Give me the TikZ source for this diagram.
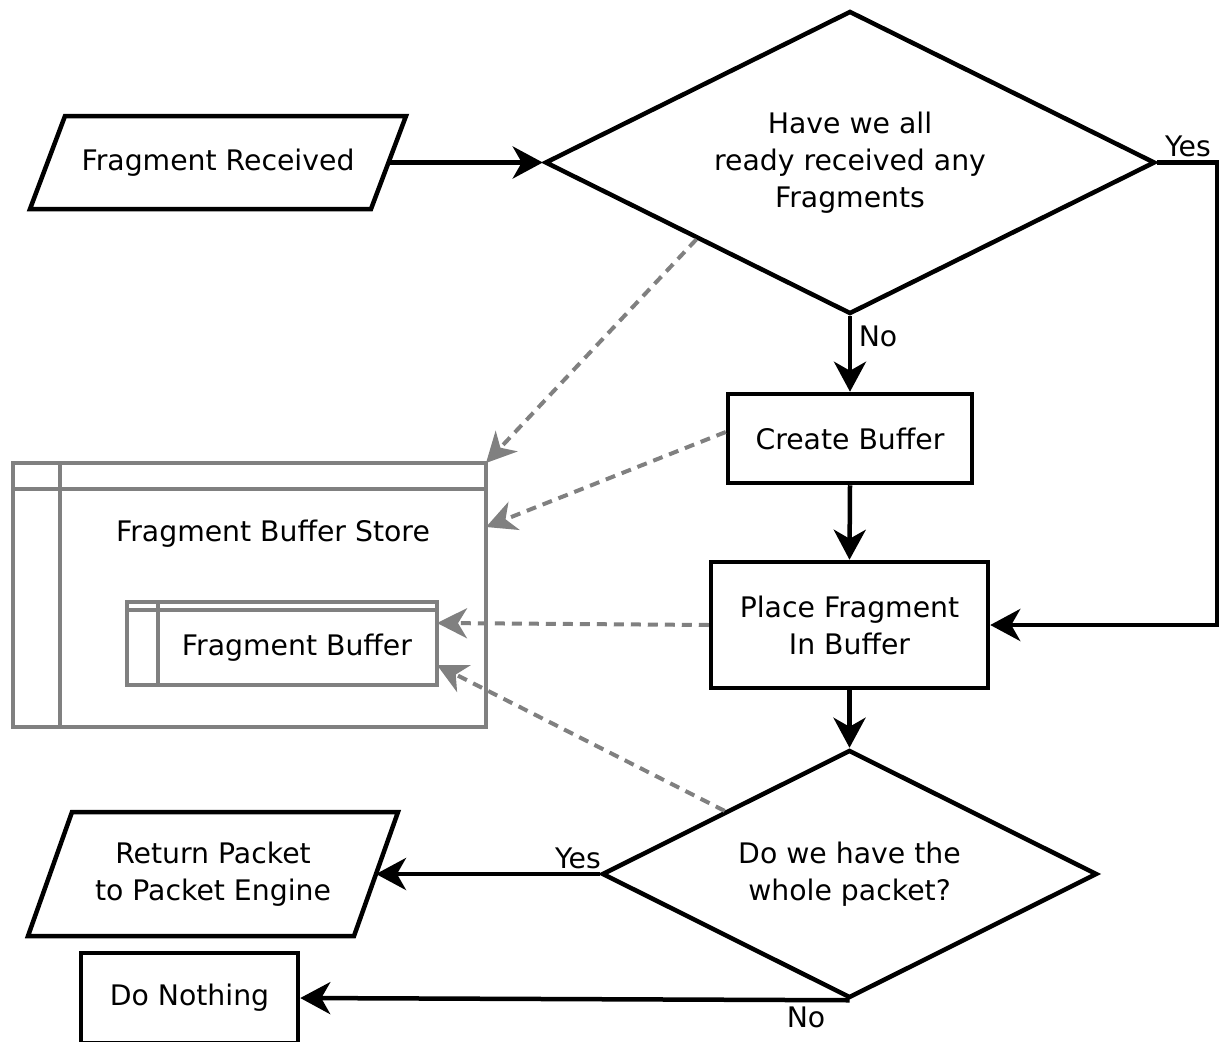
\documentclass[tikz,border=0pt]{standalone}
\usepackage{fontspec}
\setmainfont{DejaVu Sans}
\usetikzlibrary{arrows.meta,shapes.geometric,calc}
\definecolor{linkgray}{RGB}{128,128,128}
\begin{document}
\begin{tikzpicture}[x=1pt,y=-1pt,
  every node/.style={font=\fontsize{28.3}{37}\selectfont, text=black},
  blk/.style={line width=4.5pt, draw=black, line join=miter},
  flow/.style={blk, -{Stealth[length=30pt,width=32pt,inset=9pt]}},
  dep/.style={line width=4pt, draw=linkgray, dash pattern=on 10pt off 7pt,
    -{Stealth[length=30pt,width=30pt,inset=9pt,fill=linkgray]}},
  procbox/.style={rectangle, draw, line width=4.5pt, inner sep=0pt, align=center},
  decision/.style={diamond, draw, line width=4.5pt, inner sep=0pt, align=center},
  iobox/.style={rectangle, inner sep=0pt, outer sep=0pt, align=center},
  storebox/.style={rectangle, draw=linkgray, line width=4pt, inner sep=0pt, outer sep=0pt},
  storeline/.style={draw=linkgray, line width=4pt},
  lbl/.style={inner sep=0pt}]
\useasboundingbox (0,0) rectangle (1225,1041);
\clip (0,0) rectangle (1225,1041);

% input: fragment received (parallelogram)
\node[iobox, minimum width=341pt, minimum height=93pt] (fr) at (218,162.5) {Fragment Received};
\draw[blk] ($(fr.north west)+(17.5,0)$) -- ($(fr.north east)+(17.5,0)$)
  -- ($(fr.south east)+(-17.5,0)$) -- ($(fr.south west)+(-17.5,0)$) -- cycle;

% decisions
\node[decision, aspect=2.013, minimum width=610pt, minimum height=303pt] (d1) at (850,162.5)
  {Have we all\\ready received any\\Fragments};
\node[decision, aspect=1.996, minimum width=495pt, minimum height=248pt] (d2) at (849.5,874)
  {Do we have the\\whole packet?};

% process boxes
\node[procbox, minimum width=244pt, minimum height=89pt] (cb) at (850,438.5) {Create Buffer};
\node[procbox, minimum width=277pt, minimum height=126pt] (pf) at (849.5,625) {Place Fragment\\In Buffer};
\node[procbox, minimum width=217pt, minimum height=90pt] (dn) at (189.5,998) {Do Nothing};

% output: return packet (parallelogram)
\node[iobox, minimum width=326pt, minimum height=124pt] (rp) at (213,874) {Return Packet\\to Packet Engine};
\draw[blk] ($(rp.north west)+(22,0)$) -- ($(rp.north east)+(22,0)$)
  -- ($(rp.south east)+(-22,0)$) -- ($(rp.south west)+(-22,0)$) -- cycle;

% data store
\node[storebox, minimum width=473pt, minimum height=264pt] (store) at (249.5,595) {};
\draw[storeline] ($(store.north west)+(0,26)$) -- ($(store.north east)+(0,26)$);
\draw[storeline] ($(store.north west)+(47,0)$) -- ($(store.south west)+(47,0)$);
\node[lbl] (storelbl) at (273,534) {Fragment Buffer Store};

\node[storebox, minimum width=310pt, minimum height=83pt] (buf) at (282,643.5) {};
\draw[storeline] ($(buf.north west)+(0,8)$) -- ($(buf.north east)+(0,8)$);
\draw[storeline] ($(buf.north west)+(31,0)$) -- ($(buf.south west)+(31,0)$);
\node[lbl] (buflbl) at (297,648) {Fragment Buffer};

% control flow
\draw[flow] (fr.east) -- (d1.west);
\draw[flow] (d1.south) -- (cb.north);
\draw[flow] (cb.south) -- (pf.north);
\draw[flow] (pf.south) -- (d2.north);
\coordinate (yturn) at (1217,162.5);
\draw[flow] (d1.east) -- (yturn) |- (pf.east);
\draw[flow] (d2.west) -- (rp.east);
\draw[flow] (d2.south) -- (dn.east);

\node[lbl] (lyes1) at (1188,146) {Yes};
\node[lbl] (lno1) at (878,336) {No};
\node[lbl] (lyes2) at (578,858) {Yes};
\node[lbl] (lno2) at (806,1017) {No};

% data dependencies
\draw[dep] ($(d1.west)!0.5!(d1.south)$) -- (store.north east);
\draw[dep] ($(cb.west)+(0,-6.5)$) -- ($(store.east)+(0,-68)$);
\draw[dep] (pf.west) -- ($(buf.east)+(0,-20.5)$);
\draw[dep] ($(d2.west)!0.5!(d2.north)$) -- ($(buf.east)+(0,21.5)$);
\end{tikzpicture}
\end{document}
